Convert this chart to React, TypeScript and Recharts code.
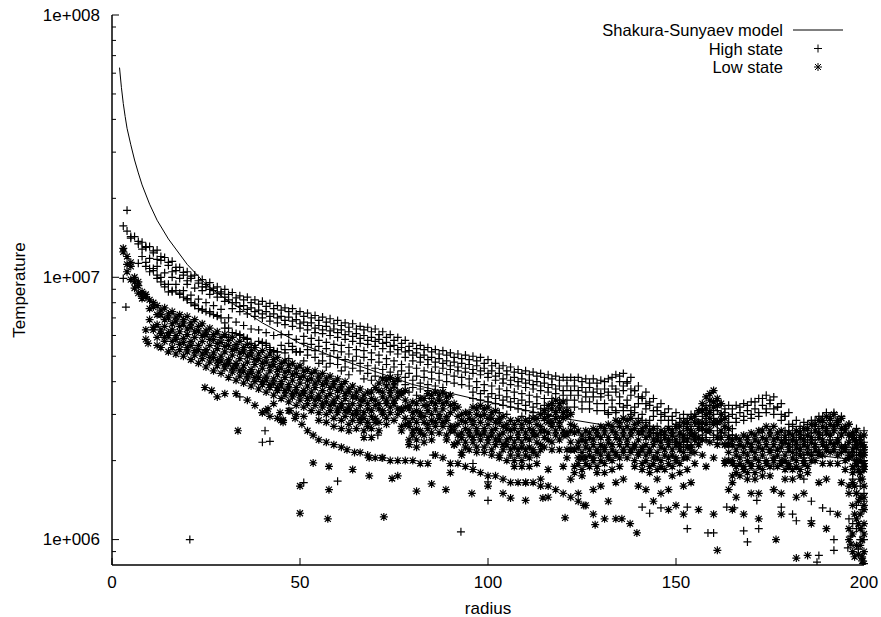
import React from 'react';
import { ScatterChart, Scatter, XAxis, YAxis, Legend, Label } from 'recharts';

const FONT = "'Liberation Sans', Arial, Helvetica, sans-serif";

// radius samples of the simulation grid
const radiiEven = [
  4, 6, 8, 10, 12, 14, 16, 18, 20, 22, 24, 26, 28, 30, 32, 34, 36, 38, 40, 42,
  44, 46, 48, 50, 52, 54, 56, 58, 60, 62, 64, 66, 68, 70, 72, 74, 76, 78, 80, 82,
  84, 86, 88, 90, 92, 94, 96, 98, 100, 102, 104, 106, 108, 110, 112, 114, 116, 118, 120, 122,
  124, 126, 128, 130, 132, 134, 136, 138, 140, 142, 144, 146, 148, 150, 152, 154, 156, 158, 160, 162,
  164, 166, 168, 170, 172, 174, 176, 178, 180, 182, 184, 186, 188, 190, 192, 194, 196, 198, 200,
];
const radiiOdd = [
  3, 5, 7, 9, 11, 13, 15, 17, 19, 21, 23, 25, 27, 29, 31, 33, 35, 37, 39, 41,
  43, 45, 47, 49, 51, 53, 55, 57, 59, 61, 63, 65, 67, 69, 71, 73, 75, 77, 79, 81,
  83, 85, 87, 89, 91, 93, 95, 97, 99, 101, 103, 105, 107, 109, 111, 113, 115, 117, 119, 121,
  123, 125, 127, 129, 131, 133, 135, 137, 139, 141, 143, 145, 147, 149, 151, 153, 155, 157, 159, 161,
  163, 165, 167, 169, 171, 173, 175, 177, 179, 181, 183, 185, 187, 189, 191, 193, 195, 197, 199,
];

// Shakura-Sunyaev model curve (K)
const modelR = [2, 2.5, 3, 3.5, 4, 5, 6, 7, 8, 10, 12, 15, 20, 25, 30, 40, 50, 60, 80, 100, 120, 140, 160, 180, 200];
const modelT = [
  6.3e7, 5.3e7, 4.6e7, 4.1e7, 3.7e7, 3.2e7, 2.8e7, 2.5e7, 2.25e7, 1.9e7, 1.65e7, 1.4e7, 1.12e7,
  9.4e6, 8.3e6, 6.7e6, 5.6e6, 4.9e6, 3.9e6, 3.35e6, 2.9e6, 2.6e6, 2.35e6, 2.15e6, 2.0e6,
];

// High state temperatures, in units of 1e5 K (null = no point read)
const highTop = [
  150, 143, 136, 131, 127, 119, 115, 109, 105, 102,
  98, 95.5, 92, 90, 87.5, 85, 84, 82, 81, 79.5,
  78, 76.5, 76, 74, 73, 71.5, 70.5, 69.5, 68.5, 67,
  66.5, 65, 64.5, 63.5, 62, 60.5, 59, 57.5, 56, 55,
  54, 53, 52.5, 51.5, 51, 50.5, 50, 49.5, 48.5, 47,
  46, 45.5, 44.5, 44, 43.5, 43, 42.5, 42, 41.5, 41.5,
  41.5, 41, 41, 40.5, 41, 42.5, 43, 41.5, 38.5, 36.5,
  34.5, 33, 31.5, 30.5, 30, 30, 31, 32.5, 33.5, 33,
  32.5, 32.5, 33, 33.5, 34.5, 35.5, 35, 33, 30.5, 28.5,
  28, 28.5, 29.5, 30.5, 30.5, 29.5, 27.5, 26.5, 26,
];
const highTop2 = [
  null, 143, 137, 131, 126, 120, 114, 109, 104.5, 101,
  97, 94, 91, 88, 86, 83.5, 82, 80, 79, 77.5,
  76, 75, 74, 72.5, 71, 70, 68.5, 67.5, 66.5, 65.5,
  64.5, 63.5, 63, 62, 60.5, 59, 57.5, 56, 54.5, 53.5,
  53, 52, 51, 50.5, 49.5, 49, 48.5, 48, 47, 46,
  45, 44, 43.5, 43, 42.5, 42, 41.5, 41, 40.5, 40.5,
  40.5, 40, 39.5, 39.5, 40, 41.5, 42, 40, 37, 35,
  33.5, 32, 30.5, 29.5, 29, 29, 30, 31.5, 32.5, 32,
  31.5, 31.5, 32, 32.5, 33.5, 34.5, 34, 32, 29.5, 27.5,
  27, 27.5, 28.5, 29.5, 29.5, 28.5, 26.5, 25.5, 25,
];
const highUpper = [
  157, 141, 134, 130, 124, 116, 111, 106, 102, 99,
  95, 92, 89, 86.5, 82, 80, 78, 76.5, 75, 74,
  72.5, 71, 70.5, 69, 67.5, 67, 65.5, 65, 63.5, 63,
  62, 61, 60, 59, 58, 56.5, 55, 54, 52.5, 51.5,
  50.5, 49.5, 49, 48, 47.5, 47, 46.5, 46, 45, 44,
  43, 42.5, 41.5, 41, 40.5, 40, 39.5, 39, 38.5, 38.5,
  38.5, 38, 38, 37.5, 37.5, 38.5, 40, 39.5, 37, 34.5,
  32.5, 31, 29.5, 28.5, 28, 27.5, 28, 29.5, 31, 31,
  30.5, 30, 30.5, 31, 31.5, 32.5, 33, 32, 29.5, 27,
  26, 26, 27, 28, 28.5, 28, 26.5, 25, 24.5,
];
const highUpper2 = [
  null, null, 128, null, 117, null, 105, null, 97, null,
  92, 90, 87, 84, 80, 77.5, 75.5, 74, 72.5, 71,
  70, 68.5, 68, 66.5, 65.5, 64, 63, 62.5, 61.5, 60.5,
  59.5, 58.5, 57.5, 57, 56, 54.5, 53, 52, 50.5, 49.5,
  48.5, 47.5, 47, 46, 45.5, 45, 44.5, 44, 43, 42,
  41, 40.5, 40, 39.5, 39, 38.5, 38, 37.5, 37, 37,
  37, 36.5, 36.5, 36, 36.5, 37.5, 38.5, 37.5, 35, 33,
  31, 30, 28.5, 27.5, 27, 27, 27.5, 29, 30, 30,
  29.5, 29, 29.5, 30, 30.5, 31.5, 31.5, 30, 27.5, 26,
  25, 25.5, 26.5, 27, 27, 26.5, 25, 24, 23.5,
];
const highMid = [
  null, null, 120, 118, 110, 104, 100, 99, 94, 91,
  89, 86, 84, 81, 76, 74, 72.5, 71, 70, 68,
  67, 66, 65, 64, 63, 61.5, 61, 60, 59, 58,
  57, 56, 55.5, 54.5, 53.5, 52, 51, 49.5, 48, 47.5,
  46.5, 45.5, 45, 44.5, 44, 43.5, 43, 42.5, 41.5, 40.5,
  39.5, 39, 38.5, 38, 37.5, 37, 36.5, 36, 35.5, 35.5,
  35.5, 35, 35, 35, 35.5, 36.5, 37, 35.5, 33, 31.5,
  29.5, 28.5, 27, 26.5, 26, 26, 27, 28, 29, 28.5,
  28, 28, 28.5, 29, 29.5, 30.5, 30, 28.5, 26, 24.5,
  24, 24.5, 25.5, 26, 26, 25.5, 23.5, 23, 22.5,
];
const highMid2 = [
  null, null, null, 114, 108, 100, 94, 94, 89, 85.5,
  82.5, 80, 78, 75.5, 70, 67.5, 65.5, 63.5, 63, 61.5,
  60, 60.5, 60.5, 58, 59.5, 58.5, 57.5, 56.5, 55.5, 55,
  54, 53, 52.5, 51.5, 50.5, 49, 48, 46.5, 45.5, 45,
  44, 43.5, 43, 42.5, 42, 41.5, 41, 40, 39, 38.5,
  37.5, 37, 36.5, 36, 35.5, 35, 34.5, 34.5, 34, 34,
  34, 33.5, 33.5, 33, 33, 34, 35, 34, 32, 30,
  28.5, 27, 26, 25.5, 25, 25, 25.5, 26.5, 27.5, 27.5,
  27, 26.5, null, null, null, null, null, null, 26, 24,
  23, 23.5, 24, 25, 25, 24.5, 23, 22.5, 22,
];
const highLower = [
  99, null, 113, 110, 106, 96, 88, 89, 84, 80,
  76, 74, 72, 70, 64, 61, 59, 56, 57, 55,
  52.5, 55, 56, 52, 56, 55.5, 54.5, 53.5, 52.5, 52,
  51, 50, 49.5, 48.5, 47.5, 46.5, 45.5, 44, 43, 42,
  41.5, 41, 40.5, 40, 39.5, 39, 38.5, 38, 37, 36,
  35.5, 35, 34.5, 34, 33.5, 33, 32.5, 32.5, 32, 32,
  32, 31.5, 31.5, 31, 31, 32, 33, 32.5, 30.5, 28.5,
  27, 25.5, 24.5, 24, 23.5, 23.5, 24, 25, 26, 26,
  25.5, 25, null, null, null, null, null, null, 25, 23,
  22, 22, 22.5, 23.5, 24, 23.5, 22.5, 21.5, 21,
];
const highLower2 = [
  null, null, null, 108, 102, 94, 88, 87, 82, 79,
  75.5, 73, 71.5, 67, 61.5, 60.5, 58.5, 55, 56.5, 54,
  52, 53, 54.5, 52, 53, 52.5, 51, 50, 49.5, 48.5,
  48, 47, 46, 45, 44.5, 43.5, 42.5, 41.5, 40.5, 39.5,
  39, 38.5, 38, null, null, null, 36.5, 36, 35, 34.5,
  34, 33.5, 33, 32.5, 32, 31.5, 31.5, 31, 30.5, 30.5,
  null, null, null, null, 30.5, 31, 32, 31, 29, 28,
  26.5, 25, 24, 23.5, 23, 23, 23.5, 24.5, 25, 25.5,
  25, 24.5, null, null, null, null, null, null, 24, 22,
  21, 21.5, 22, 23, 23, 22.5, 21.5, 21, 20,
];
const highBase = [
  null, null, null, 105, 99, 92, 89, 86, 83, 78,
  75, 74, 71, 64, 59, 60, 58, 54, 56, 53,
  52, 51.5, 53, 52, 50.5, 49.5, 48, 47, 46.5, 45.5,
  45, 44, 43, 42, 41.5, 41, 40, 39, 38, 37.5,
  37, 36.5, 36, null, null, null, 34.5, 34, 33.5, 33,
  32.5, 32, 31.5, 31, 30.5, 30, 30, 29.5, 29.5, null,
  null, null, null, null, 30, 30.5, 31, 30, 28, 27,
  25.5, 24.5, 23.5, 23, 22.5, 22.5, 23, 24, 24.5, 24.5,
  24, null, null, null, null, null, null, 24, 22.5, 21,
  20.5, 21, 21.5, 22, 22, 21.5, 20.5, 20, 19.5,
];
const highLowest = [
  null, null, null, null, null, null, null, null, null, null,
  null, null, null, null, 59, null, 59, 54, null, 56,
  52, null, 49, 52, 48, null, 47, 45.5, null, 44,
  42.5, null, 41, 40.5, null, 39, 38, null, 36.5, 35.5,
  null, 34.5, 34, null, null, null, null, 32, 31.5, null,
  30.5, 30, null, 29.5, 29, null, 28.5, 28, null, null,
  null, null, null, null, null, null, null, null, null, null,
  null, null, null, null, null, null, null, null, null, null,
  null, null, null, null, null, null, null, null, null, null,
  null, null, null, null, null, null, null, null, null,
];
// [radius, T / 1e5 K]
const highScatter = [
  [4, 180], [3.7, 77], [20.7, 10], [34, 35], [40.7, 26], [40, 23.5], [42, 23.7], [51, 16.5],
  [60, 16.7], [63, 33], [66, 31], [70.7, 25], [85.4, 21], [92.8, 10.7], [96, 19.5], [100, 16.6],
  [100, 14.1], [112, 26], [126, 24], [130, 22], [141, 13.3], [143, 12.6], [146, 13.2], [150, 20],
  [153, 11], [153, 13.3], [158.5, 10.6], [160, 10.6], [163.5, 13.3], [165.5, 13.2], [168, 10.8],
  [169, 9.8], [171.5, 14.1], [172, 11], [176, 19], [176, 15.5], [178, 13.3], [181, 12.5],
  [182, 11.8], [184, 17], [186, 11.8], [186, 14], [187.5, 8.2], [188, 8.7], [189, 13.2],
  [191, 12.8], [192, 9.1], [192, 10], [195.7, 9.3], [196, 12], [197, 17], [198, 11], [198.5, 19],
  [199, 10], [199, 24], [199.5, 13], [200, 15], [200, 22],
];
const highEdge = [
  [198, 23], [199.5, 20], [197.5, 18.5], [199, 16], [200, 14], [198, 13.5], [199.5, 11],
  [197, 11.5], [200, 10], [198.5, 9.2], [199.5, 8.5], [196.5, 10.3],
];

// Low state temperatures, in units of 1e5 K
const lowTop = [
  120, 100, 86, 82, 78, 76.5, 74, 72, 71, 69,
  66.5, 64, 62, 60.5, 59, 57, 55.5, 54, 52.5, 51,
  49.5, 48, 47, 46, 44.5, 44, 43, 42, 41, 40,
  38.5, 37.5, 36.5, 38, 41, 41.5, 41, 37, 33.5, 34.5,
  36, 36.5, 36.5, 35.5, 32, 30.5, 32, 32.5, 32, 31,
  29.5, 28.5, 28.5, 28.5, 29, 30, 32.5, 34, 33.5, 30,
  26, 26, 26.5, 27, 27.5, 28.5, 29, 29, 28, 27,
  26.5, 26, 26.5, 27, 28, 29, 31, 35, 37, 33,
  26.5, 24.5, 25, 25.5, 26, 27, 27, 26, 25.5, 26,
  26.5, 27.5, 28.5, 29.5, 30, 29, 27.5, 26, 25,
];
const lowTop2 = [
  125, 114, 96, 86, 80, 75, 72.5, 70.5, 69, 67,
  65, 62.5, 60.5, 59, 57.5, 55.5, 54, 52.5, 51, 49.5,
  48.5, 47, 46, 45, 44, 43, 42, 41, 40, 39,
  37.5, 36.5, 35.5, 36.5, 39.5, 40.5, 40, 36.5, 32.5, 33,
  34.5, 35.5, 35.5, 35, 33, 30, 30.5, 31.5, 31.5, 30.5,
  29, 27.5, 27.5, 27.5, 28, 29, 31, 33, 33, 31,
  27, 25, 25.5, 26, 26.5, 27, 28, 28.5, 27.5, 26.5,
  26, 25, 25.5, 26, 27, 28, 29.5, 33, 36, 34.5,
  29, 24, 24, 24.5, 25, 26, 26, 25.5, 24.5, 25,
  25.5, 26.5, 27.5, 28.5, 29, 28.5, 27, 25.5, 24.5,
];
const lowUpper = [
  129, 110, 93, 84, 77, 72, 70, 68, 66.5, 64.5,
  62.5, 60.5, 58, 56.5, 55, 53.5, 52, 50.5, 49, 47.5,
  46.5, 45, 44, 43, 42, 41, 40.5, 39.5, 38.5, 37.5,
  36.5, 35, 34, 34.5, 37, 38.5, 38.5, 36, 31.5, 31,
  32.5, 33.5, 34, 33.5, 31.5, 28.5, 29, 30, 30, 29,
  28, 26.5, 26.5, 26.5, 26.5, 27.5, 29, 31.5, 31.5, 29.5,
  25.5, 24, 24.5, 25, 25.5, 26, 27, 27, 26.5, 25.5,
  25, 24, 24.5, 25, 25.5, 26.5, 28, 31, 34, 32.5,
  27, 23, 23, 23.5, 24, 24.5, 25, 24.5, 23.5, 24,
  24.5, 25, 26, 27, 27.5, 27.5, 26, 24.5, 23.5,
];
const lowUpper2 = [
  112, 96, 88, 76, 72, 69, 66.5, 65, 63.5, 62,
  60, 58, 56, 54.5, 53, 51.5, 50, 48.5, 47, 46,
  44.5, 43.5, 42.5, 41.5, 40.5, 39.5, 39, 38, 37, 36,
  35, 34, 33, 34, 36.5, 37, 36.5, 34, 30.5, 30.5,
  32.5, 33, 33, 32.5, 29.5, 28, 28.5, 29.5, 29, 28,
  27, 26, 25.5, 25.5, 26, 27, 29.5, 30.5, 30.5, 27.5,
  23.5, 23.5, 24, 24.5, 24.5, 25.5, 26, 26, 25.5, 24.5,
  24, 23.5, 24, 24, 25, 26, 28, 31.5, 33.5, 30,
  24.5, 22, 22.5, 23, 23.5, 24, 24, 23.5, 23, 23.5,
  24, 24.5, 25.5, 26.5, 27, 26.5, 25, 23.5, 22.5,
];
const lowMid = [
  105, 91, 83, 69, 66, 65, 63, 62, 60.5, 59,
  57, 55, 53.5, 52, 50.5, 49, 47.5, 46.5, 45, 44,
  42.5, 41.5, 40.5, 39.5, 38.5, 38, 37, 36, 35, 34.5,
  33, 32.5, 31.5, 32.5, 35, 35.5, 35, 32, 29, 29.5,
  31, 31.5, 31.5, 30.5, 27.5, 26.5, 27.5, 28, 27.5, 26.5,
  25.5, 24.5, 24.5, 24.5, 25, 26, 28, 29, 29, 26,
  22.5, 22.5, 23, 23, 23.5, 24.5, 25, 25, 24, 23,
  23, 22.5, 23, 23, 24, 25, 26.5, 30, 32, 28.5,
  23, 21, 21.5, 22, 22.5, 23, 23, 22.5, 22, 22.5,
  23, 23.5, 24.5, 25.5, 26, 25, 23.5, 22.5, 21.5,
];
const lowMid2 = [
  null, 98, 87, 63, 64.5, 63, 61.5, 60, 58.5, 57,
  55, 53, 51.5, 50, 48.5, 47, 46, 44.5, 43.5, 42,
  41, 40, 39, 38, 37, 36.5, 35.5, 35, 34, 33,
  32, 31, 30.5, 31, 33, 34, 34, 31.5, 28, 28,
  29.5, 30, 30, 29.5, 26, 25.5, 26, 26.5, 26.5, 26,
  25, 24, 23.5, 23.5, 24, 25, 26, 28, 28, 25.5,
  22, 21.5, 22, 22, 22.5, 23, 24, 24, 23, 22.5,
  22, 21.5, 22, 22, 23, 24, 25, 28, 30.5, 28,
  23, 20, 20.5, 21, 21.5, 22, 22, 22, 21, 21.5,
  22, 22.5, 23, 24, 25, 24, 22.5, 22, 21,
];
const lowLower = [
  null, null, null, 58, 63, 61, 60, 58, 56.5, 55,
  53, 51.5, 49.5, 48, 47, 45.5, 44, 43, 41.5, 40.5,
  39.5, 38.5, 37.5, 36.5, 36, 35, 34.5, 33.5, 33, 32,
  31, 30, 29, 29.5, 31.5, 33, 33, 31, 27, 26.5,
  28, 28.5, 29, 28.5, 27, 24.5, 25, 25.5, 25.5, 25,
  24, 23, 22.5, 22.5, 22.5, 23.5, 24.5, 27, 27, 25,
  22, 20.5, 21, 21.5, 22, 22, 23, 23, 22.5, 22,
  21.5, 20.5, 21, 21, 22, 22.5, 24, 26.5, 29, 28,
  23, 19.5, 19.5, 20, 20.5, 21, 21.5, 21, 20, 20.5,
  21, 21.5, 22, 23, 23.5, 23.5, 22, 21, 20,
];
const lowLower2 = [
  null, null, null, null, 59, 59, 57, 55.5, 54, 52.5,
  51, 49.5, 48, 46.5, 45, 44, 42.5, 41.5, 40, 39,
  38, 37, 36, 35.5, 34.5, 34, 33, 32.5, 31.5, 31,
  30, 29, 28, 29, 31, 32, 31.5, 29, 26, 26,
  27.5, 28, 28, 27, 25, 23.5, 24.5, 25, 24.5, 24,
  23, 22, 22, 22, 22, 23, 25.5, 26, 26, 23.5,
  20.5, 20.5, 20.5, 21, 21, 21.5, 22, 22, 21.5, 21,
  20.5, 20, 20.5, 20.5, 21.5, 22.5, 24.5, 27.5, 28, 26,
  21.5, 19, 19, 19.5, 20, 20, 20.5, 20, 19.5, 20,
  20, 21, 21.5, 22.5, 23, 22.5, 21, 20, 19.5,
];
const lowBase = [
  null, null, null, null, 55, 57, 54, 53, 52, 50.5,
  49, 47.5, 46, 45, 43.5, 42, 41, 40, 39, 38,
  37, 35.5, 35, 34, 33, 32.5, 32, 31, 30.5, 29.5,
  28.5, 28, 27, 28, 30, 30.5, 30, 27.5, 25, 25.5,
  26.5, 27, 27, 26, 23.5, 22.5, 23.5, 24, 23.5, 23,
  22, 21, 21, 21, 21.5, 22, 24, 25, 25, 22,
  19.5, 19.5, 20, 20, 20.5, 21, 21.5, 21.5, 21, 20,
  19.5, 19, 19.5, 20, 20.5, 21.5, 23, 26, 27.5, 24.5,
  20, 18, 18.5, 19, 19, 19.5, 20, 19.5, 19, 19,
  19.5, 20, 21, 22, 22, 21.5, 20.5, 19.5, 18.5,
];
const lowBase2 = [
  null, null, null, null, null, 54, 52, 51, 50, 48.5,
  47, 45.5, 44, 43, 41.5, 40.5, 39.5, 38.5, 37.5, 36.5,
  35.5, 34.5, 33.5, 32.5, 32, 31, 30.5, 30, 29, 28.5,
  27.5, 26.5, 26, 26.5, 28, 29, 28.5, 27, 24, 24,
  25, 25.5, 25.5, 25, 23, 21.5, 22, 22.5, 22.5, 22,
  21, 20, 20, 20, 20.5, 21, 22.5, 23.5, 24, 22,
  19, 18.5, 19, 19, 19.5, 20, 20.5, 20.5, 20, 19.5,
  19, 18.5, 18.5, 19, 19.5, 20.5, 21.5, 24, 26, 24.5,
  20, 17.5, 17.5, 18, 18, 18.5, 19, 19, 18.5, 18.5,
  18.5, 19, 20, 21, 21.5, 21, 20, 19, 18,
];
const lowSparse = [
  null, null, null, null, null, null, null, null, null, null,
  null, null, null, null, null, null, null, null, null, 31,
  33, 28.5, 31, 30, 29.5, null, 28.5, 28, 27, 26.5,
  26, null, 24.5, 24.5, 26, 27.5, null, 26, 23, 22.5,
  23.5, 24, null, 24, 23, 21, null, 21.5, 21.5, 21,
  20.5, null, 19, 19, 19, 19.5, null, 22, 22, 20.5,
  18, 17.5, null, 18, 18, 18.5, 19, null, 19, 18.5,
  18, 17, null, 17.5, 18, 18.5, 19.5, 21, 23.5, 23,
  19.5, 16.5, null, 17, 17, 17.5, 17.5, null, 17, 17,
  17.5, 18, null, 19.5, 19.5, 19.5, 18.5, 18, 17,
];
const lowFaint = [
  null, null, null, null, null, null, null, null, null, null,
  null, null, null, null, null, null, null, null, null, null,
  null, null, null, null, null, null, null, null, null, null,
  null, null, null, null, null, null, null, null, null, null,
  null, null, null, null, null, null, null, null, null, null,
  null, null, null, 16.5, null, 17, 18.5, null, 19, 17,
  15, null, 15.5, 16, null, 16.5, 17, null, 16, 15.5,
  null, 15, 15.5, null, 16, 16.5, null, 19, 20.5, null,
  15.5, 14.5, null, 15, 15, null, 15.5, 15, null, 14.5,
  15, null, 16.5, 17, null, 16.5, 16, 15, 14.5,
];
const lowStrand = [
  [24.7, 38], [26.5, 37], [28, 35], [30, 36], [33, 36], [36, 34], [38, 32.5], [40, 30.5],
  [42, 29.5], [44, 29], [45.5, 28.5], [48.7, 29], [50.5, 27.5], [52, 26], [53.5, 25], [55, 24],
  [57, 23.5], [59, 23], [61, 22.5], [62.5, 22], [64.5, 21.5], [66, 21.5], [68, 21], [70, 20.5],
  [72, 20.5], [74, 20], [76, 20], [78, 20], [80, 20], [82, 19.5], [84, 19.5], [86, 21],
  [88, 20.5], [90, 19.5], [92, 19.5], [94, 19], [96, 18.5], [98, 18], [100, 17.5], [102, 17.5],
  [104, 17], [106, 16.5], [108, 16.5], [110, 16.5], [112, 16.5], [114, 16], [116, 16], [118, 15.5],
  [120, 15], [122, 14.5], [124, 14], [125.5, 13.5], [128, 12.5], [131, 12], [134, 12], [137.8, 11.5],
  [139.6, 10.6],
];
const lowScatter = [
  [9.6, 56], [33.5, 26], [40, 30.5], [41.5, 31.5], [44.7, 30.5], [45.5, 28], [47.3, 31], [50, 16],
  [50, 12.6], [53.5, 19.6], [57.7, 19], [57.7, 15.5], [57.4, 12], [64, 18.5], [68.4, 17.5],
  [68.4, 20.5], [71.8, 20.5], [72.3, 12.2], [74.5, 17.1], [76, 17.5], [81, 15.3], [85, 16.3],
  [88.8, 15.5], [90, 18], [95.7, 15], [100, 16], [104, 15], [106, 14.4], [110, 14.1], [114.6, 14.4],
  [116, 14.5], [120.5, 12.1], [126, 13.5], [128.5, 11.4], [132, 14], [135.6, 12], [144, 14],
  [148, 13], [150, 13.5], [152, 12.5], [156, 13], [160, 12.5], [161, 9.1], [165, 13], [168, 12.5],
  [172, 12], [176.6, 10], [178, 12.5], [182, 8.5], [185, 8.7], [186, 11.5], [190, 11], [193, 12.5],
  [196, 10], [196, 15], [197, 9], [197, 13.5], [197.5, 16], [198, 12], [198, 20], [198.5, 14],
  [199, 11], [199, 9.5], [199, 18], [199.5, 8.6], [199.5, 23], [200, 13], [200, 10.5], [200, 21],
];
const lowEdge = [
  [197.5, 24], [198, 22.5], [199, 21.5], [200, 19], [198.5, 18.5], [199.5, 17], [197, 16.5],
  [200, 16], [198, 15], [199, 14.5], [200, 13.5], [197.5, 12.5], [199, 12.5], [198.5, 11.5],
  [200, 11.5], [197, 10.5], [199.5, 10], [198, 9.5], [200, 9], [198.5, 8.8], [199.5, 8.3],
  [197.5, 8.6], [196.5, 9.6], [196, 11], [200, 8.1],
];

const yTicks = [
  9e5, 1e6, 2e6, 3e6, 4e6, 5e6, 6e6, 7e6, 8e6, 9e6,
  1e7, 2e7, 3e7, 4e7, 5e7, 6e7, 7e7, 8e7, 9e7, 1e8,
];
const xTicks = [0, 50, 100, 150, 200];
const legendOrder = ['Shakura-Sunyaev model', 'High state', 'Low state'];

type Pt = { r: number; t: number };
const track = (radii: number[], vals: (number | null)[]): Pt[] =>
  vals.flatMap((v, i) => (v == null || radii[i] == null ? [] : [{ r: radii[i], t: v * 1e5 }]));
const pairs = (list: number[][]): Pt[] => list.map(([r, v]) => ({ r, t: v * 1e5 }));

const modelData: Pt[] = modelR.map((r, i) => ({ r, t: modelT[i] }));
const highData: Pt[] = [
  ...track(radiiEven, highTop), ...track(radiiOdd, highTop2), ...track(radiiOdd, highUpper),
  ...track(radiiEven, highUpper2), ...track(radiiEven, highMid), ...track(radiiOdd, highMid2),
  ...track(radiiOdd, highLower), ...track(radiiEven, highLower2), ...track(radiiEven, highBase),
  ...track(radiiOdd, highLowest), ...pairs(highScatter), ...pairs(highEdge),
];
const lowData: Pt[] = [
  ...track(radiiEven, lowTop), ...track(radiiOdd, lowTop2), ...track(radiiOdd, lowUpper),
  ...track(radiiEven, lowUpper2), ...track(radiiEven, lowMid), ...track(radiiOdd, lowMid2),
  ...track(radiiOdd, lowLower), ...track(radiiEven, lowLower2), ...track(radiiEven, lowBase),
  ...track(radiiOdd, lowBase2), ...track(radiiOdd, lowSparse), ...track(radiiEven, lowFaint),
  ...pairs(lowStrand), ...pairs(lowScatter), ...pairs(lowEdge),
];

const isDecade = (v: number) => Math.abs(Math.log10(v) - Math.round(Math.log10(v))) < 1e-9;
const expLabel = (v: number) => `1e+${String(Math.round(Math.log10(v))).padStart(3, '0')}`;

const textStyle = { fontFamily: FONT, fontSize: 17, fill: '#000' };
const keyStyle = { ...textStyle, fontSize: 16.5 };

const plusPath = (x: number, y: number) => `M${x - 4},${y}h8M${x},${y - 4}v8`;
const starPath = (x: number, y: number) =>
  `${plusPath(x, y)}M${x - 3},${y - 3}l6,6M${x - 3},${y + 3}l6,-6`;

const PlusMark = (p: any) => <path d={plusPath(p.cx, p.cy)} stroke="#000" strokeWidth={1.2} fill="none" />;
const StarMark = (p: any) => <path d={starPath(p.cx, p.cy)} stroke="#000" strokeWidth={1.2} fill="none" />;
const NoMark = () => <g />;

const LeftTick = ({ x, y, payload }: any) => {
  const major = isDecade(payload.value);
  return (
    <g>
      <line x1={x} x2={x + (major ? 7 : 4)} y1={y} y2={y} stroke="#000" />
      {major && (
        <text x={x - 12} y={y} textAnchor="end" dominantBaseline="central" {...textStyle}>
          {expLabel(payload.value)}
        </text>
      )}
    </g>
  );
};
const RightTick = ({ x, y, payload }: any) => (
  <line x1={x} x2={x - (isDecade(payload.value) ? 7 : 4)} y1={y} y2={y} stroke="#000" />
);
const BottomTick = ({ x, y, payload }: any) => (
  <g>
    <line x1={x} x2={x} y1={y} y2={y - 7} stroke="#000" />
    <text x={x} y={y + 23} textAnchor="middle" {...textStyle}>{payload.value}</text>
  </g>
);
const TopTick = ({ x, y }: any) => <line x1={x} x2={x} y1={y} y2={y + 7} stroke="#000" />;

const KeyBox = ({ payload }: any) => {
  const entries = [...(payload || [])].sort(
    (a: any, b: any) => legendOrder.indexOf(a.value) - legendOrder.indexOf(b.value),
  );
  return (
    <svg width={881} height={80} style={{ display: 'block' }}>
      {entries.map((entry: any, i: number) => {
        const cy = 30 + i * 18.5;
        const kind = legendOrder.indexOf(entry.value);
        return (
          <g key={entry.value}>
            <text x={783} y={cy} textAnchor="end" dominantBaseline="central" {...keyStyle}>
              {entry.value}
            </text>
            {kind === 0 && <line x1={793} x2={843} y1={cy} y2={cy} stroke="#000" />}
            {kind === 1 && <path d={plusPath(818, cy)} stroke="#000" fill="none" />}
            {kind === 2 && <path d={starPath(818, cy)} stroke="#000" fill="none" />}
          </g>
        );
      })}
    </svg>
  );
};

export default function App() {
  return (
    <div style={{ position: 'absolute', left: 0, top: 0, width: 881, height: 617, background: '#fff' }}>
      <ScatterChart width={881} height={617} margin={{ top: 15, right: 17, bottom: 0, left: 0 }}>
        <XAxis
          xAxisId="bottom"
          dataKey="r"
          type="number"
          domain={[0, 200]}
          ticks={xTicks}
          interval={0}
          height={52}
          tickSize={0}
          tickMargin={0}
          tick={BottomTick}
          axisLine={{ stroke: '#000', strokeWidth: 1.5 }}
          tickLine={false}
        >
          <Label value="radius" position="insideBottom" offset={3} style={textStyle} />
        </XAxis>
        <XAxis
          xAxisId="top"
          orientation="top"
          dataKey="r"
          type="number"
          domain={[0, 200]}
          ticks={xTicks}
          interval={0}
          height={0}
          tickSize={0}
          tickMargin={0}
          tick={TopTick}
          axisLine={{ stroke: '#000', strokeWidth: 1.5 }}
          tickLine={false}
        />
        <YAxis
          yAxisId="left"
          dataKey="t"
          type="number"
          scale="log"
          domain={[8e5, 1e8]}
          allowDataOverflow
          ticks={yTicks}
          interval={0}
          width={112}
          tickSize={0}
          tickMargin={0}
          tick={LeftTick}
          axisLine={{ stroke: '#000', strokeWidth: 1.5 }}
          tickLine={false}
        >
          <Label
            value="Temperature"
            angle={-90}
            position="insideLeft"
            offset={19}
            style={{ ...textStyle, textAnchor: 'middle' }}
          />
        </YAxis>
        <YAxis
          yAxisId="right"
          orientation="right"
          dataKey="t"
          type="number"
          scale="log"
          domain={[8e5, 1e8]}
          allowDataOverflow
          ticks={yTicks}
          interval={0}
          width={0}
          tickSize={0}
          tickMargin={0}
          tick={RightTick}
          axisLine={{ stroke: '#000', strokeWidth: 1.5 }}
          tickLine={false}
        />
        <Legend
          layout="vertical"
          align="center"
          verticalAlign="middle"
          wrapperStyle={{ left: 0, top: 0, width: 881, height: 80 }}
          content={KeyBox}
        />
        <Scatter
          name="Shakura-Sunyaev model"
          data={modelData}
          xAxisId="bottom"
          yAxisId="left"
          line={{ stroke: '#000', strokeWidth: 1 }}
          lineType="joint"
          shape={NoMark}
          isAnimationActive={false}
        />
        <Scatter
          name="High state"
          data={highData}
          xAxisId="bottom"
          yAxisId="left"
          shape={PlusMark}
          isAnimationActive={false}
        />
        <Scatter
          name="Low state"
          data={lowData}
          xAxisId="bottom"
          yAxisId="left"
          shape={StarMark}
          isAnimationActive={false}
        />
      </ScatterChart>
    </div>
  );
}
